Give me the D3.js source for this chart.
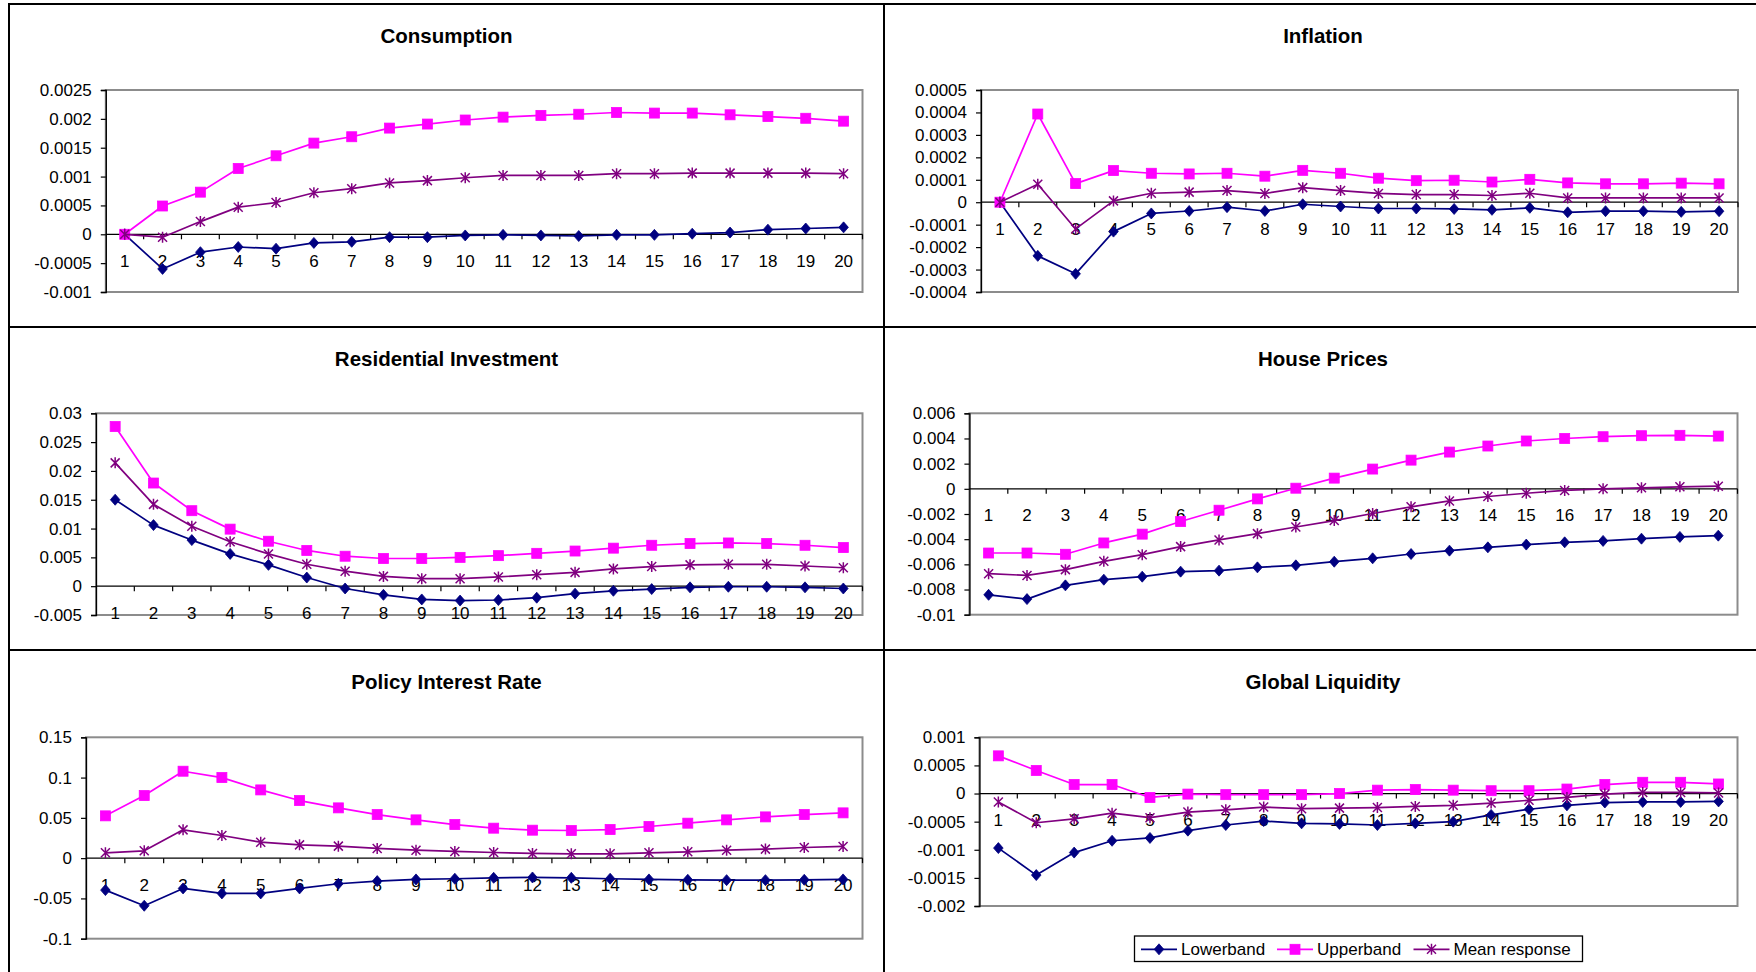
<!DOCTYPE html>
<html>
<head>
<meta charset="utf-8">
<script src="https://cdn.jsdelivr.net/npm/d3@7"></script>
<style>
  body { margin: 0; background: #fff; }
  svg text { font-family: "Liberation Sans", Arial, Helvetica, sans-serif; fill: #000; }
</style>
</head>
<body>
<svg id="fig" width="1756" height="972"></svg>
<script>
// Horizon (quarters after the shock)
const periods = [1, 2, 3, 4, 5, 6, 7, 8, 9, 10, 11, 12, 13, 14, 15, 16, 17, 18, 19, 20];
const seriesNames = ["Lowerband", "Upperband", "Mean response"];

// Consumption
const consumptionLower = [0, -0.0006, -0.00031, -0.00022, -0.00025, -0.00015, -0.00013, -0.00005, -0.00005, -0.00002, -0.00001, -0.00002, -0.00003, -0.00001, -0.00001, 0.00001, 0.00003, 0.00008, 0.0001, 0.00012];
const consumptionUpper = [0, 0.00049, 0.00073, 0.00114, 0.00136, 0.00158, 0.00169, 0.00184, 0.00191, 0.00198, 0.00203, 0.00206, 0.00208, 0.00211, 0.0021, 0.0021, 0.00207, 0.00204, 0.00201, 0.00196];
const consumptionMean = [0, -0.00005, 0.00022, 0.00047, 0.00055, 0.00072, 0.00079, 0.00089, 0.00093, 0.00098, 0.00102, 0.00102, 0.00102, 0.00105, 0.00105, 0.00106, 0.00106, 0.00106, 0.00106, 0.00105];
const consumptionTicks = [-0.001, -0.0005, 0, 0.0005, 0.001, 0.0015, 0.002, 0.0025];

// Inflation
const inflationLower = [0, -0.000239, -0.000319, -0.000131, -0.00005, -0.000039, -0.000022, -0.000039, -0.000009, -0.000019, -0.000028, -0.000028, -0.00003, -0.000034, -0.000025, -0.000045, -0.00004, -0.00004, -0.000043, -0.00004];
const inflationUpper = [0, 0.000393, 0.000083, 0.000141, 0.000129, 0.000126, 0.000129, 0.000116, 0.000142, 0.000129, 0.000107, 0.000096, 0.000098, 0.00009, 0.000102, 0.000086, 0.000082, 0.000082, 0.000085, 0.000082];
const inflationMean = [0, 0.00008, -0.000119, 0.000006, 0.00004, 0.000045, 0.000052, 0.000039, 0.000065, 0.000052, 0.000039, 0.000034, 0.000034, 0.00003, 0.00004, 0.000019, 0.000019, 0.000019, 0.000019, 0.000019];
const inflationTicks = [-0.0004, -0.0003, -0.0002, -0.0001, 0, 0.0001, 0.0002, 0.0003, 0.0004, 0.0005];

// Residential investment
const residentialLower = [0.015, 0.0106, 0.008, 0.0056, 0.0037, 0.0015, -0.0004, -0.0015, -0.0023, -0.0025, -0.0024, -0.002, -0.0013, -0.0008, -0.0005, -0.0002, -0.0001, -0.0001, -0.0002, -0.0004];
const residentialUpper = [0.0277, 0.0179, 0.0131, 0.0099, 0.0078, 0.0062, 0.0052, 0.0048, 0.0048, 0.005, 0.0053, 0.0057, 0.0061, 0.0066, 0.0071, 0.0074, 0.0075, 0.0074, 0.0071, 0.0067];
const residentialMean = [0.0214, 0.0142, 0.0104, 0.0077, 0.0056, 0.0038, 0.0026, 0.0017, 0.0013, 0.0013, 0.0016, 0.002, 0.0024, 0.003, 0.0034, 0.0037, 0.0038, 0.0038, 0.0035, 0.0032];
const residentialTicks = [-0.005, 0, 0.005, 0.01, 0.015, 0.02, 0.025, 0.03];

// House prices
const housePricesLower = [-0.00842, -0.00876, -0.00767, -0.00722, -0.00698, -0.00658, -0.0065, -0.00624, -0.00608, -0.00579, -0.00552, -0.00518, -0.00491, -0.00465, -0.00443, -0.00425, -0.00414, -0.00396, -0.00382, -0.00372];
const housePricesUpper = [-0.0051, -0.0051, -0.0052, -0.0043, -0.0036, -0.0026, -0.0017, -0.0008, 0.00005, 0.00085, 0.00157, 0.00228, 0.00292, 0.0034, 0.0038, 0.004, 0.00414, 0.00422, 0.00425, 0.00419];
const housePricesMean = [-0.00674, -0.00688, -0.00642, -0.00576, -0.00523, -0.00459, -0.00406, -0.00356, -0.00303, -0.00252, -0.00196, -0.00143, -0.00096, -0.00061, -0.00035, -0.00013, 0, 0.00008, 0.00016, 0.00021];
const housePricesTicks = [-0.01, -0.008, -0.006, -0.004, -0.002, 0, 0.002, 0.004, 0.006];

// Policy interest rate
const policyLower = [-0.0397, -0.0591, -0.0376, -0.0438, -0.0438, -0.0376, -0.0318, -0.0285, -0.0264, -0.0256, -0.0244, -0.024, -0.0244, -0.0256, -0.0264, -0.0269, -0.0273, -0.0273, -0.0269, -0.0264];
const policyUpper = [0.0525, 0.0777, 0.1079, 0.1, 0.0847, 0.0715, 0.0624, 0.0541, 0.0475, 0.0417, 0.0372, 0.0347, 0.0343, 0.0355, 0.0393, 0.0434, 0.0475, 0.0512, 0.0541, 0.0562];
const policyMean = [0.0066, 0.0091, 0.0351, 0.0281, 0.0198, 0.0165, 0.0149, 0.012, 0.0099, 0.0083, 0.007, 0.0058, 0.0054, 0.0054, 0.0066, 0.0079, 0.0099, 0.0112, 0.0132, 0.0145];
const policyTicks = [-0.1, -0.05, 0, 0.05, 0.1, 0.15];

// Global liquidity
const liquidityLower = [-0.00097, -0.00145, -0.00105, -0.00084, -0.00079, -0.00066, -0.00056, -0.00049, -0.00053, -0.00054, -0.00056, -0.00053, -0.0005, -0.00038, -0.00028, -0.00021, -0.00016, -0.00015, -0.00015, -0.00014];
const liquidityUpper = [0.00067, 0.00041, 0.00016, 0.00016, -0.00007, -0.00001, -0.00002, -0.00002, -0.00002, 0, 0.00006, 0.00007, 0.00006, 0.00005, 0.00005, 0.00008, 0.00016, 0.0002, 0.0002, 0.00017];
const liquidityMean = [-0.00015, -0.00052, -0.00045, -0.00035, -0.00043, -0.00033, -0.00029, -0.00024, -0.00027, -0.00026, -0.00025, -0.00023, -0.00021, -0.00017, -0.00012, -0.00007, -0.00001, 0.00002, 0.00002, 0.00001];
const liquidityTicks = [-0.002, -0.0015, -0.001, -0.0005, 0, 0.0005, 0.001];

// Panel frames and plot areas (pixels)
const panels = [
  { title: "Consumption", data: [consumptionLower, consumptionUpper, consumptionMean], ticks: consumptionTicks,
    frame: { x: 9, y: 4, w: 875, h: 323 }, plot: { left: 105.8, right: 862.5, top: 90, bottom: 292 } },
  { title: "Inflation", data: [inflationLower, inflationUpper, inflationMean], ticks: inflationTicks,
    frame: { x: 884, y: 4, w: 878, h: 323 }, plot: { left: 981, right: 1738, top: 90, bottom: 292 } },
  { title: "Residential Investment", data: [residentialLower, residentialUpper, residentialMean], ticks: residentialTicks,
    frame: { x: 9, y: 327, w: 875, h: 323 }, plot: { left: 96, right: 862.5, top: 413.3, bottom: 615 } },
  { title: "House Prices", data: [housePricesLower, housePricesUpper, housePricesMean], ticks: housePricesTicks,
    frame: { x: 884, y: 327, w: 878, h: 323 }, plot: { left: 969.4, right: 1737.5, top: 413.3, bottom: 614.7 } },
  { title: "Policy Interest Rate", data: [policyLower, policyUpper, policyMean], ticks: policyTicks,
    frame: { x: 9, y: 650, w: 875, h: 323 }, plot: { left: 86, right: 862.5, top: 737.3, bottom: 938.7 } },
  { title: "Global Liquidity", data: [liquidityLower, liquidityUpper, liquidityMean], ticks: liquidityTicks,
    frame: { x: 884, y: 650, w: 878, h: 323 }, plot: { left: 979.4, right: 1737.5, top: 737.3, bottom: 906 } }
];

const seriesColors = ["#000080", "#ff00ff", "#800080"];
const markerKinds = ["diamond", "square", "star"];
const FONT = 17;

const svg = d3.select("#fig");

function drawMarker(g, kind, color) {
  if (kind === "diamond") {
    g.append("path").attr("d", "M0,-5.5L4.8,0L0,5.5L-4.8,0Z")
      .attr("fill", color).attr("stroke", color).attr("stroke-width", 0.8);
  } else if (kind === "square") {
    g.append("rect").attr("x", -5).attr("y", -5).attr("width", 10).attr("height", 10)
      .attr("fill", color).attr("stroke", color).attr("stroke-width", 0.8);
  } else {
    g.append("path").attr("d", "M-4.5,-4.5L4.5,4.5M-4.5,4.5L4.5,-4.5M0,-5.5L0,5.5")
      .attr("fill", "none").attr("stroke", color).attr("stroke-width", 1.5);
  }
}

panels.forEach(p => {
  // Panel frame
  svg.append("rect")
    .attr("x", p.frame.x).attr("y", p.frame.y).attr("width", p.frame.w).attr("height", p.frame.h)
    .attr("fill", "#fff").attr("stroke", "#000").attr("stroke-width", 2);
});

panels.forEach(p => {
  const g = svg.append("g");
  const x = d3.scaleBand().domain(periods).range([p.plot.left, p.plot.right]).padding(0);
  const y = d3.scaleLinear().domain([p.ticks[0], p.ticks[p.ticks.length - 1]]).range([p.plot.bottom, p.plot.top]);
  const cx = d => x(d) + x.bandwidth() / 2;

  // Title
  g.append("text")
    .attr("x", p.frame.x + p.frame.w / 2).attr("y", p.frame.y + 38.5)
    .attr("text-anchor", "middle").attr("font-weight", "bold").attr("font-size", 20.5)
    .text(p.title);

  // Plot area border
  g.append("rect")
    .attr("x", p.plot.left).attr("y", p.plot.top)
    .attr("width", p.plot.right - p.plot.left).attr("height", p.plot.bottom - p.plot.top)
    .attr("fill", "none").attr("stroke", "#8c8c8c").attr("stroke-width", 2);

  // Value axis
  const yAxis = g.append("g").attr("transform", `translate(${p.plot.left},0)`)
    .call(d3.axisLeft(y).tickValues(p.ticks).tickFormat(v => String(v)).tickSize(5).tickPadding(9));
  yAxis.select(".domain").attr("stroke", "#000").attr("stroke-width", 1.3);
  yAxis.selectAll(".tick line").attr("stroke", "#000").attr("stroke-width", 1.2);
  yAxis.selectAll(".tick text").attr("font-size", FONT).attr("fill", "#000")
    .attr("font-family", "Liberation Sans, Arial, sans-serif");

  // Category axis crossing at zero
  const y0 = y(0);
  const xAxis = g.append("g").attr("transform", `translate(0,${y0})`)
    .call(d3.axisBottom(x).tickSize(0).tickPadding(20.5));
  xAxis.select(".domain").remove();
  xAxis.selectAll(".tick text").attr("font-size", FONT).attr("fill", "#000")
    .attr("font-family", "Liberation Sans, Arial, sans-serif");
  g.append("line")
    .attr("x1", p.plot.left).attr("x2", p.plot.right).attr("y1", y0).attr("y2", y0)
    .attr("stroke", "#000").attr("stroke-width", 1.3);
  const bounds = periods.slice(1).map(d => x(d)).concat([p.plot.right]);
  g.selectAll("line.xtick").data(bounds).join("line").attr("class", "xtick")
    .attr("x1", d => d).attr("x2", d => d).attr("y1", y0).attr("y2", y0 + 5)
    .attr("stroke", "#000").attr("stroke-width", 1.2);

  // Series: lower band, upper band, mean response
  p.data.forEach((vals, i) => {
    const pts = periods.map((d, k) => [cx(d), y(vals[k])]);
    g.append("path").attr("d", d3.line()(pts))
      .attr("fill", "none").attr("stroke", seriesColors[i]).attr("stroke-width", 1.7)
      .attr("stroke-linejoin", "round");
    pts.forEach(pt => {
      const m = g.append("g").attr("transform", `translate(${pt[0]},${pt[1]})`);
      drawMarker(m, markerKinds[i], seriesColors[i]);
    });
  });
});

// Legend
const legend = svg.append("g");
legend.append("rect").attr("x", 1134.5).attr("y", 936).attr("width", 448).attr("height", 25.5)
  .attr("fill", "#fff").attr("stroke", "#000").attr("stroke-width", 1.3);
const legendItems = [
  { lineX: 1141, textX: 1181 },
  { lineX: 1277, textX: 1317 },
  { lineX: 1413.5, textX: 1453.5 }
];
seriesNames.forEach((name, i) => {
  const it = legendItems[i];
  legend.append("line").attr("x1", it.lineX).attr("x2", it.lineX + 36)
    .attr("y1", 949.3).attr("y2", 949.3).attr("stroke", seriesColors[i]).attr("stroke-width", 1.7);
  const m = legend.append("g").attr("transform", `translate(${it.lineX + 18},949.3)`);
  drawMarker(m, markerKinds[i], seriesColors[i]);
  legend.append("text").attr("x", it.textX).attr("y", 955.2).attr("font-size", FONT).text(name);
});
</script>
</body>
</html>
